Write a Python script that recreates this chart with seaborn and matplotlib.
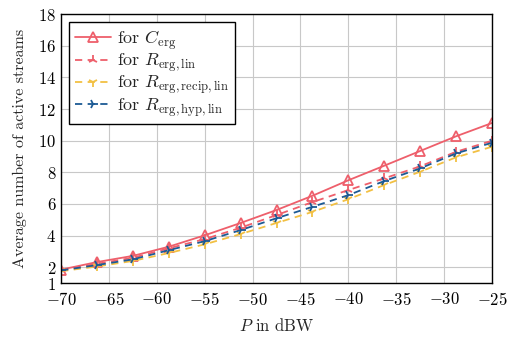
import numpy as np
import pandas as pd
import matplotlib
matplotlib.use("Agg")
import matplotlib.pyplot as plt
import seaborn as sns

# data
power_dbw = [-70, -66.25, -62.5, -58.75, -55, -51.25, -47.5, -43.75, -40, -36.25, -32.5, -28.75, -25]
c_erg = [1.85, 2.33, 2.72, 3.3, 4.02, 4.8, 5.62, 6.52, 7.5, 8.42, 9.35, 10.28, 11.12]
r_lin = [1.82, 2.22, 2.6, 3.2, 3.78, 4.5, 5.3, 6.12, 6.88, 7.62, 8.38, 9.3, 10.0]
r_recip = [1.75, 2.05, 2.4, 2.9, 3.45, 4.1, 4.8, 5.5, 6.3, 7.2, 8.04, 8.95, 9.62]
r_hyp = [1.8, 2.14, 2.5, 3.08, 3.65, 4.35, 5.1, 5.82, 6.56, 7.45, 8.25, 9.2, 9.87]

labels = [r"for $C_{\mathrm{erg}}$",
          r"for $R_{\mathrm{erg,lin}}$",
          r"for $R_{\mathrm{erg,recip,lin}}$",
          r"for $R_{\mathrm{erg,hyp,lin}}$"]
series = [c_erg, r_lin, r_recip, r_hyp]
y_ticks = [1, 2, 4, 6, 8, 10, 12, 14, 16, 18]
x_ticks = [-70, -65, -60, -55, -50, -45, -40, -35, -30, -25]

sns.set_theme(style="white")
plt.rcParams["font.family"] = "serif"
plt.rcParams["font.serif"] = ["cmr10", "DejaVu Serif"]
plt.rcParams["mathtext.fontset"] = "cm"
plt.rcParams["axes.formatter.use_mathtext"] = True
plt.rcParams["axes.unicode_minus"] = True

colors = ["#ee5f6b", "#ee5f6b", "#f2c043", "#1c5a94"]
markers = ["^", "2", "1", "4"]
dash_styles = ["-", (0, (4, 3)), (0, (4, 3)), (0, (4, 3))]

fig, ax = plt.subplots(figsize=(5.14, 3.39), dpi=100)
for s, lab, col, mk, ls in zip(series, labels, colors, markers, dash_styles):
    sns.lineplot(x=power_dbw, y=s, color=col, marker=mk, linestyle=ls,
                 markersize=7, linewidth=1.3, markeredgewidth=1.3,
                 markerfacecolor="none", markeredgecolor=col, label=lab, ax=ax)

ax.set_xlim(-70, -25)
ax.set_ylim(1, 18)
ax.set_xticks(x_ticks)
ax.set_yticks(y_ticks)
ax.grid(True, color="#c8c8c8", linewidth=0.8)
ax.tick_params(direction="in", length=3, labelsize=12, colors="black")
ax.tick_params(axis="x", pad=6)
for sp in ax.spines.values():
    sp.set_color("black")
    sp.set_linewidth(1.0)
ax.set_xlabel(r"$P$ in dBW", fontsize=12, labelpad=6)
ax.set_ylabel("Average number of active streams", fontsize=11.5, labelpad=8)

leg = ax.legend(loc="upper left", fontsize=13, frameon=True, fancybox=False,
                edgecolor="black", framealpha=1, handlelength=2.0,
                handletextpad=0.35, borderpad=0.3, labelspacing=0.0,
                borderaxespad=0.45)
leg.get_frame().set_linewidth(1.0)

fig.subplots_adjust(left=0.119, right=0.957, top=0.958, bottom=0.165)
fig.savefig("out.png", dpi=100)
